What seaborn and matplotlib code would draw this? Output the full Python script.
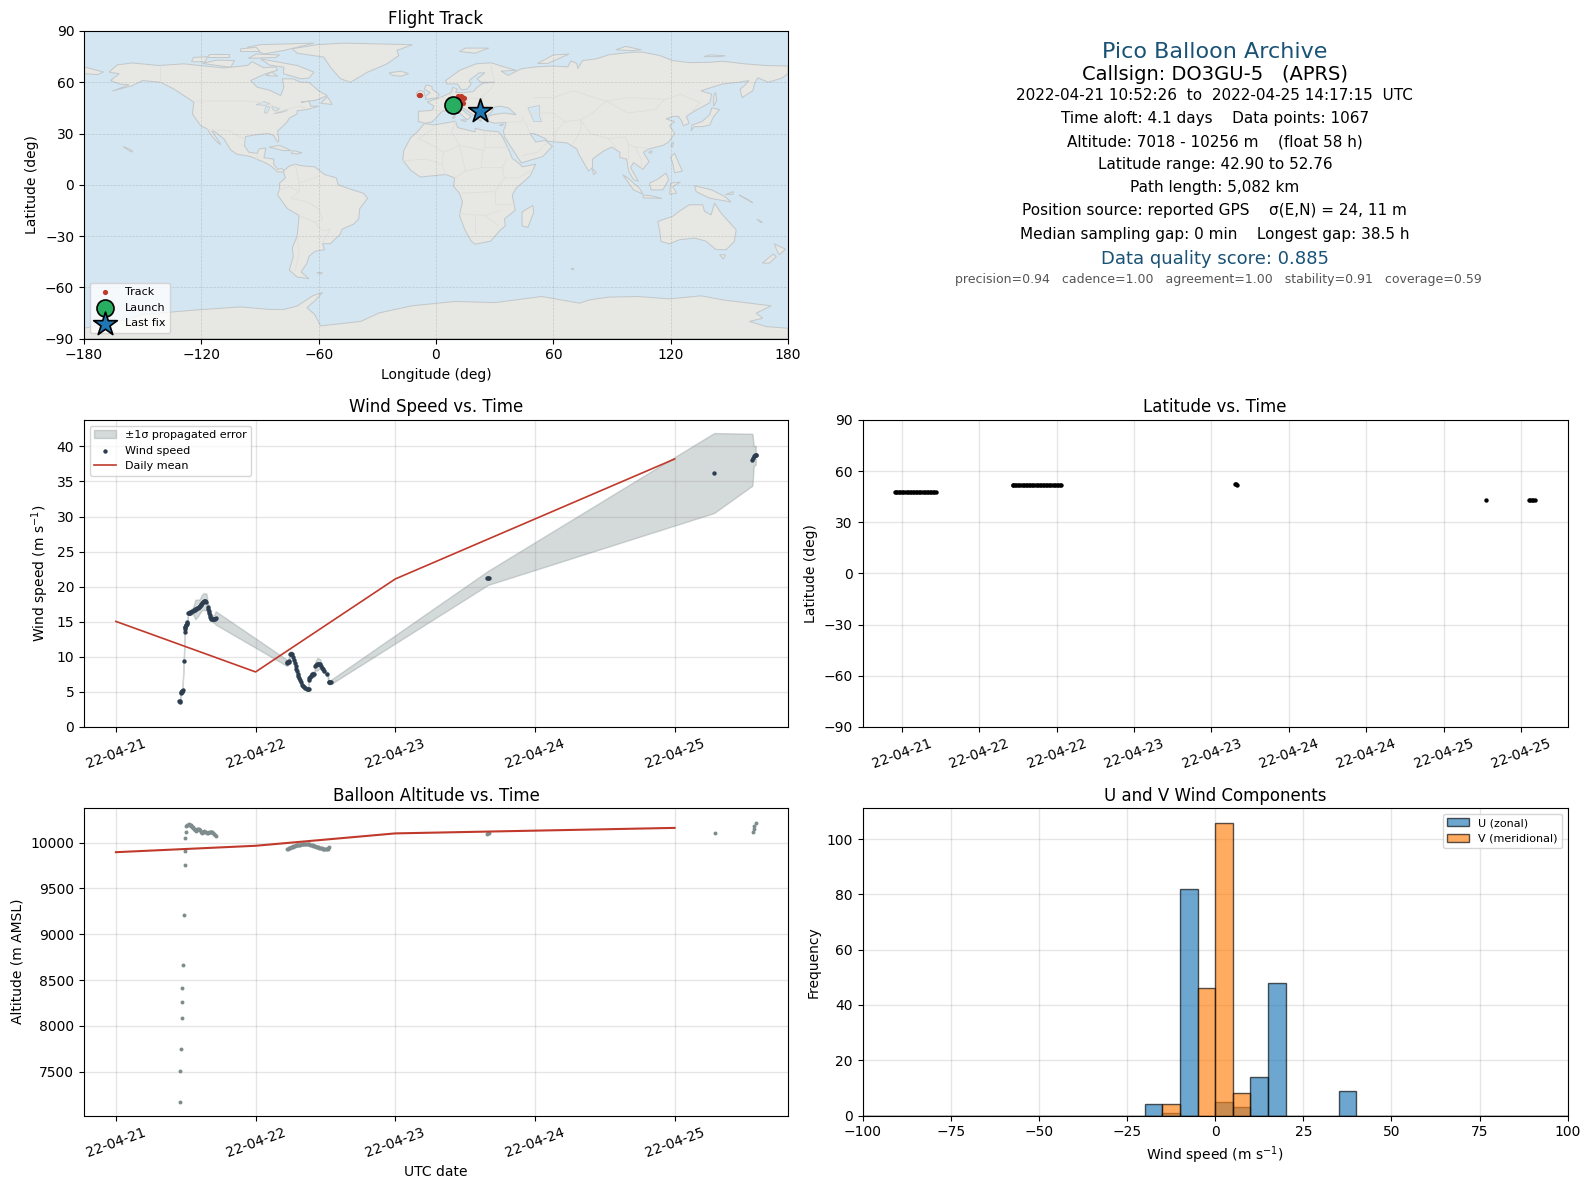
import numpy as np
import pandas as pd
import matplotlib
matplotlib.use("Agg")
import matplotlib.pyplot as plt
import matplotlib.dates as mdates
import seaborn as sns

# days since 2022-04-21 00:00 UTC
BASE = pd.Timestamp("2022-04-21")

# band is drawn from these
wind_days = [.457,.467,.476,.486,.493,.493,.5,.51,.517,.533,.552,.569,.586,.6,.614,.629,.648,.657,.669,.676,.688,.705,.714,
             1.224,1.236,1.248,1.262,1.274,1.286,1.298,1.307,1.319,1.331,1.348,1.367,1.379,1.381,1.39,1.407,1.421,1.426,1.443,1.462,1.474,1.493,1.514,1.524,1.538,
             2.664,4.283,4.557,4.567,4.581]
wind_speed = [3.67,4.95,5.2,9.4,13.55,14.27,14.5,14.8,16.25,16.35,16.55,16.75,16.95,17.2,17.7,17.9,17.8,17.1,16.25,15.7,15.4,15.4,15.55,
              9.15,9.3,10.45,10.4,9.6,8.65,7.95,7.25,6.65,6.05,5.7,5.45,5.4,6.75,7.15,7.5,7.55,8.65,8.95,9.05,8.4,7.95,7.5,6.4,6.4,
              21.25,36.2,38.1,38.6,38.75]
wind_err = [.2,.2,.2,.2,.3,.3,.3,.3,.3,.3,.5,1.4,1.2,1.0,1.1,1.2,1.2,.7,.5,.4,.4,.6,.95,
            .45,.4,.35,.35,.3,.3,.3,.3,.3,.3,.3,.3,.3,.4,.4,.4,.4,.6,.9,.6,.4,.3,.3,.3,.3,
            1.0,5.7,3.7,1.4,1.35]
# more samples along the same runs, dots only
wind_more_days = [.455,.459,.465,.47,.474,.478,.494,.497,.503,.507,.512,.52,.526,.53,.54,.545,.56,.563,.575,.58,.592,.596,.606,.61,.62,.625,.635,.64,.66,.665,.672,.68,.684,.693,.698,.71,
                  1.228,1.232,1.24,1.252,1.257,1.268,1.28,1.292,1.303,1.313,1.325,1.34,1.357,1.373,1.385,1.396,1.402,1.413,1.434,1.45,1.456,1.468,1.483,1.528,1.533,
                  2.658,2.67,4.56,4.575,4.585]
wind_more_speed = [3.7,3.6,4.9,5.0,5.2,5.25,13.9,14.2,14.6,14.7,14.95,16.25,16.3,16.3,16.4,16.5,16.65,16.7,16.85,16.9,17.05,17.1,17.4,17.55,17.8,17.85,17.95,17.9,16.8,16.5,16,15.55,15.45,15.35,15.35,15.45,
                   9.2,9.25,9.35,10.45,10.45,10,9.1,8.3,7.6,6.95,6.35,5.85,5.55,5.42,6.95,7.3,7.4,7.55,8.8,9.0,9.05,8.75,8.2,6.4,6.4,
                   21.2,21.25,38.3,38.7,38.8]

mean_days = [0, 1, 2, 4]
mean_wind = [15.05, 7.85, 21.1, 38.2]
mean_alt = [9895, 9965, 10100, 10160]

alt_days = [.457,.457,.464,.471,.471,.471,.479,.486,.493,.493,.493,.5,.505,.51,.514,.52,.529,.535,.54,.545,.55,.555,.56,.565,.571,.578,.58,.586,.593,.6,.607,.614,.62,.626,.633,.64,.646,.652,.658,.665,.671,.678,.684,.69,.698,.705,.711,.717,
            1.224,1.23,1.236,1.242,1.248,1.254,1.26,1.265,1.271,1.277,1.283,1.29,1.295,1.3,1.307,1.313,1.319,1.325,1.331,1.337,1.343,1.349,1.355,1.361,1.367,1.373,1.379,1.385,1.39,1.396,1.402,1.408,1.414,1.42,1.426,1.432,1.438,1.444,1.45,1.456,1.462,1.468,1.474,1.48,1.486,1.492,1.498,1.504,1.51,1.516,1.522,1.529,
            2.66,2.664,2.668,4.29,4.56,4.565,4.57,4.585]
altitude = [7171,7511,7752,8091,8266,8409,8660,9208,9755,9909,10051,10117,10179,10190,10197,10200,10197,10190,10180,10172,10165,10155,10150,10135,10124,10135,10145,10150,10145,10135,10120,10106,10112,10118,10124,10118,10112,10106,10108,10110,10113,10116,10118,10120,10105,10091,10085,10077,
            9931,9935,9938,9942,9945,9948,9953,9957,9960,9963,9966,9969,9971,9973,9975,9977,9978,9980,9982,9984,9985,9986,9987,9986,9985,9983,9981,9980,9978,9976,9973,9970,9967,9963,9960,9956,9953,9950,9947,9944,9942,9939,9936,9933,9931,9929,9928,9927,9927,9932,9940,9949,
            10097,10100,10103,10105,10120,10150,10180,10215]

lat_days = [.453,.46,.47,.48,.49,.5,.51,.52,.53,.54,.55,.56,.57,.58,.59,.6,.61,.62,.63,.64,.65,.66,.67,.68,.69,.7,.71,.72,
            1.215,1.22,1.23,1.24,1.25,1.26,1.27,1.28,1.29,1.3,1.31,1.32,1.33,1.34,1.35,1.36,1.37,1.38,1.39,1.4,1.41,1.42,1.43,1.44,1.45,1.46,1.47,1.48,1.49,1.5,1.51,1.52,1.528,
            2.655,2.66,2.665,4.274,4.55,4.56,4.57,4.58,4.59]
lat_vals = [47.6,47.6,47.6,47.7,47.7,47.7,47.7,47.7,47.7,47.7,47.8,47.8,47.8,47.8,47.8,47.8,47.8,47.8,47.8,47.8,47.9,47.9,47.9,47.9,47.9,47.9,47.9,48,
            51.6,51.6,51.6,51.6,51.7,51.7,51.7,51.7,51.7,51.7,51.7,51.7,51.8,51.8,51.8,51.8,51.8,51.8,51.8,51.8,51.8,51.8,51.8,51.8,51.9,51.9,51.9,51.9,51.9,51.9,51.9,51.9,51.9,
            52.76,52.4,52,43.2,43.2,43.1,43,42.9,43.1]

track_lon = [8.7,9.5,11,12.1,13.5,13,13.8,12.6,11.4,14.2,-8.5,-8.2,10.4,10.2,22.3]
track_lat = [47.5,47.6,48,51.6,51.2,52,47.7,50.8,51.9,50.6,52.6,52.76,42.9,43.4,43.4]
launch_lon, launch_lat = [8.7], [46.9]
last_lon, last_lat = [22.3], [43.4]

bin_edges = list(range(-100, 105, 5))
u_left = [-20, -15, -10, 0, 5, 10, 15, 35]
u_counts = [4, 1, 82, 5, 3, 14, 48, 9]
v_left = [-15, -5, 0, 5]
v_counts = [4, 46, 106, 8]

info_lines = ["Pico Balloon Archive", "Callsign: DO3GU-5   (APRS)",
              "2022-04-21 10:52:26  to  2022-04-25 14:17:15  UTC",
              "Time aloft: 4.1 days    Data points: 1067",
              "Altitude: 7018 - 10256 m    (float 58 h)",
              "Latitude range: 42.90 to 52.76",
              "Path length: 5,082 km",
              "Position source: reported GPS    σ(E,N) = 24, 11 m",
              "Median sampling gap: 0 min    Longest gap: 38.5 h",
              "Data quality score: 0.885",
              "precision=0.94   cadence=1.00   agreement=1.00   stability=0.91   coverage=0.59"]

# rough coastlines, lon/lat
north_america = [(-167.2,65.9),(-163,70.2),(-155.3,71.3),(-141.7,69.8),(-128.9,70.8),(-121,69.8),(-108.4,68.4),(-96.5,69.8),(-94,72),(-88,68.5),(-82,69),(-81,67),(-87,65),(-94.8,61),(-91.4,57.1),(-85,55.3),(-81.2,53.2),(-79.5,52.2),(-77.8,57.1),(-78.6,62),(-73,62),(-69.3,60),(-65,60),(-60,55),(-55.6,52.2),(-60,50),(-62.5,49.3),(-69,48.3),(-65,49),(-64,46),(-60,46),(-66,44),(-71,43.4),(-71,41.5),(-75,39),(-76,37),(-78,34.6),(-81,31.5),(-80.3,25.8),(-81,25),(-83,28.8),(-85.5,30),(-91.4,29.4),(-97.4,28.2),(-98,22.9),(-95.7,19),(-91.4,18.4),(-90.5,21),(-87,21.5),(-88,15.8),(-83,15),(-83,12),(-81,9),(-79,9.5),(-77.5,8.5),(-78,7.5),(-81,7.5),(-84.6,11.2),(-87.5,13),(-94.8,16.5),(-102,18),(-105,20.4),(-108.4,26.8),(-113,31),(-114.7,31.5),(-112,27),(-110,23.5),(-112,25),(-115.3,29.5),(-117,32.7),(-120.4,34.6),(-124.6,41.5),(-123.8,48.3),(-128.9,52.2),(-134,56),(-140.8,60),(-150,61),(-155.3,58),(-165.5,54.8),(-157,58.5),(-162,59),(-166.4,61),(-162,65)]
greenland = [(-73.5,79.6),(-60.7,82),(-47,82.9),(-12,82),(-20,78.6),(-19,75.6),(-25,70.8),(-35,65.9),(-43.7,60),(-48.8,62),(-54,68.8),(-57.4,74.7),(-71,77)]
baffin = [(-89.7,73.7),(-71,69.8),(-62.4,65.9),(-65,62.5),(-69,62),(-78,65),(-77.8,68.8),(-85,70)]
victoria = [(-119.5,71),(-105,68.8),(-103,72.7),(-112,73)]
ellesmere = [(-96.5,80.5),(-89.7,82),(-62.4,82.9),(-77.8,78.6),(-88,76.6)]
banks = [(-125,72),(-118,72),(-117,75),(-124,74.5)]
devon = [(-96,74),(-82,74.5),(-80,76),(-92,76.5)]
melville = [(-117,75),(-106,75),(-106,76.5),(-116,76.5)]
axel = [(-100,78),(-90,78),(-92,80.5),(-100,79.5)]
southampton = [(-87,64),(-81,63.5),(-84,66)]
newfoundland = [(-59,47.7),(-53,47),(-55.5,51.5)]
cuba = [(-85.4,22),(-80,23),(-74,20),(-78,20)]
hispaniola = [(-74,18.5),(-73,20),(-68.5,18.7),(-71,18)]
hawaii = [(-160,22.4),(-157,21),(-155,19.6),(-156,19.2)]
south_america = [(-77.5,8.5),(-75,11),(-72,12),(-68,11),(-62,10.5),(-57,6),(-51,4),(-50,0),(-44,-2.5),(-37,-5),(-35,-8),(-39,-14),(-39.5,-20),(-42,-23),(-48,-26),(-49,-29),(-54,-34.5),(-58,-34.5),(-57,-38),(-62,-39),(-65,-42),(-66,-46),(-69,-51),(-65,-55),(-71,-54),(-75,-50),(-73,-42),(-73.5,-37),(-71,-30),(-70,-18),(-76,-14),(-81,-6),(-80,-2.5),(-80,1),(-77,4),(-78,7.5)]
africa = [(-6,35.8),(-1,35),(10,37.2),(11,33.5),(15,32.3),(20,31),(20,33),(25,31.7),(32,31),(34,28),(37,21),(39,15.5),(43,12),(44,10.5),(51,12),(48,5),(41,-2),(39,-6),(40.5,-15),(35,-20),(35.5,-24),(32.5,-27),(28,-33),(20,-34.8),(18,-33),(15,-27),(12,-18),(13.5,-10),(12,-5),(9,-1),(9.5,4),(5,6),(-4,5),(-8,4.5),(-13,8.5),(-17,14.5),(-16.5,20),(-13,27.5),(-9.5,31)]
eurasia = [(-9,37),(-9,43),(-2,43.5),(-1,46),(-4.5,48.5),(2,51),(4,52),(8,54),(8.5,57),(11,56),(10,54),(14,54),(19,54.5),(21,57),(24,59.5),(30,60),(23,60),(21,62),(25,65.5),(22,65.5),(17,61),(18,59),(16,56),(13,55.5),(11,59),(5.5,59),(4.9,61),(12,66.9),(20.5,70.8),(28.2,71.4),(34.2,69.2),(41,67),(33.3,66.5),(37,64),(41.8,66.9),(44,68),(51.2,69),(59.7,69.5),(67.4,69),(69,72.5),(72,71),(72.5,68),(75,72.7),(81.9,73.7),(88.7,76.2),(100.6,77.6),(105.7,77.6),(114.2,75.7),(121,72.7),(129.6,71.5),(139.8,71.7),(146.6,72.3),(157.7,70.8),(168.8,69.8),(180,69.5),(180,65),(177,62.5),(170,60),(164.5,62.6),(163,59.5),(162,55),(156.5,51),(155.5,56),(157.7,58),(160,61),(155,60),(146.6,59),(135.5,55),(141,53),(140,48),(132,43),(128,40),(129.5,36),(126.5,34.5),(125.5,37.5),(124,40),(121,40),(117.7,38.5),(122,37),(119.5,34.6),(122,30),(119,25),(116,23),(109,21),(106,19),(109,13.5),(105.7,9),(101,13),(99.5,10),(103.5,2),(101,3),(98.5,8),(97.5,15),(94,16),(94,19),(90,22),(86,20),(80,15),(80,10),(78,8),(73,18),(72,21),(67,24.5),(57,25.5),(56,27),(50,30),(48,30),(51,25),(56,26),(59.5,22.5),(54.6,16.5),(43.6,12.8),(39,21),(35,28),(34.5,31.5),(36,36.5),(30,36),(27,37),(26.5,40),(29,41),(35,42),(41,41),(37,45),(33,46),(30,45.5),(28,42),(26,40.5),(23,40.5),(23,37),(20,40),(14,45),(12.3,45),(16,41.5),(18,40),(16,38),(12,42),(9,44.3),(3,43),(0,39),(-2,36.8),(-5.5,36)]
chukotka = [(-180,69),(-175,67.5),(-170,66),(-173,64.5),(-180,65)]
britain = [(-5.5,50),(1,51),(1.5,53),(-2,56),(-2,57.5),(-5,58.5),(-6,56),(-3,54),(-5,52)]
ireland = [(-10,52),(-6,52),(-6,54.5),(-8,55.2),(-10,54)]
iceland = [(-24,65.5),(-18,66.5),(-14,65),(-18,63.5),(-22,64)]
svalbard = [(12,78),(20,77),(27,80),(15,80)]
novaya = [(52,71),(57,71),(68,76.5),(60,76)]
severnaya = [(92,79),(100,78.5),(105,79),(97,81)]
novosibirsk = [(137,75),(145,75),(148,75.5),(140,76)]
wrangel = [(178,71),(-180,71.3),(-180,70.9),(178,70.8)]
japan = [(130.4,31.5),(132,34),(136,34),(140,35),(142,40),(145,44),(141,45),(140,41),(136,37),(131,35)]
sakhalin = [(142,46),(143.5,49),(143,54),(142,52)]
taiwan = [(120,23),(121.5,25),(121,22)]
sri_lanka = [(80,9.5),(82,7),(80.5,6)]
madagascar = [(44,-16),(49.5,-12),(50,-16),(47,-25),(44,-24)]
sumatra = [(95.5,5.9),(98,4),(104,-2),(105.8,-5.5),(101,-3)]
java = [(105.8,-6),(110,-6.5),(115.6,-8),(106,-7.7)]
borneo = [(109.2,1),(113,3),(117.7,6.8),(119,3),(116,-3),(110,-3)]
sulawesi = [(119.5,-5.5),(120,1),(125,1.5),(121,-1),(123,-5)]
philippines = [(120,16),(122,18.5),(124,13),(126,8),(122,7),(121,13)]
new_guinea = [(132.2,-0.5),(137.3,-2),(141,-3),(147.5,-6.8),(150.9,-10.1),(143,-8.5),(139.8,-7.8),(133,-4)]
new_britain = [(148,-5.8),(152,-4),(152,-5.5)]
solomon = [(155,-6),(160,-9),(162,-10.6),(158,-8)]
caledonia = [(164,-20),(167,-22),(166,-22)]
australia = [(113.4,-21.5),(121,-18.5),(125,-15),(129.6,-11.7),(136.4,-11.7),(137.3,-15.6),(140.7,-17.6),(142.4,-10.7),(145.8,-16.6),(153.5,-26.4),(152.6,-33.2),(148.4,-38),(143.2,-38),(138,-33),(132.2,-31.2),(124.5,-32.2),(119.4,-34.6),(115.1,-33.2),(114.3,-26.4)]
tasmania = [(145,-41),(148,-41),(147,-43.5)]
nz_north = [(173,-34.6),(178.7,-37.7),(175.6,-41),(174.5,-39)]
nz_south = [(172.5,-40.6),(174,-42),(170.5,-45.9),(166.8,-45.8)]
antarctica = [(-180,-84),(-158,-79),(-150,-76),(-125,-73.5),(-100,-71.5),(-85,-73),(-78,-73),(-71,-71),(-63,-65),(-58,-63),(-62,-68),(-66,-72),(-62,-76),(-59,-82.6),(-38.5,-80),(-29,-75),(-12,-70.8),(10,-68.3),(30,-69),(54,-65.4),(73.4,-69.3),(78.5,-67.4),(87.9,-65.8),(103.2,-65.4),(119.4,-66.8),(135.6,-65),(146.6,-67.4),(160.3,-69.3),(171.4,-70.9),(163.7,-75.2),(167.1,-78.1),(160.3,-80),(168.8,-83),(180,-84),(180,-90),(-180,-90)]
falklands = [(-61,-51.5),(-58,-51.5),(-59,-52.3)]
kerguelen = [(69,-49),(70.5,-49),(70,-50)]
sicily = [(12.5,38),(15.5,38),(15,36.8)]
sardinia = [(8.3,39),(9.7,41),(9.6,39)]
crete_cyprus = [(32.5,34.8),(34.5,35.5),(33.5,34.7)]
hainan = [(108.7,19),(110.5,20),(110,18.3)]
land_shapes = [north_america, greenland, baffin, victoria, ellesmere, banks, devon, melville, axel, southampton, newfoundland, cuba, hispaniola, hawaii,
               south_america, africa, eurasia, chukotka, britain, ireland, iceland, svalbard, novaya, severnaya, novosibirsk, japan, sakhalin, taiwan,
               sri_lanka, madagascar, sumatra, java, borneo, sulawesi, philippines, new_guinea, new_britain, solomon, caledonia, australia, tasmania,
               nz_north, nz_south, antarctica, falklands, kerguelen, sicily, sardinia, crete_cyprus, hainan]

caspian = [(47,45),(53,46.5),(53,40),(54,37),(50,37),(49,40)]
superior = [(-92,46.8),(-88,48.7),(-85,47.5),(-87,46.5)]
michigan = [(-87.8,42),(-87,45.8),(-85,45.5),(-86.3,42)]
huron = [(-84,46),(-80,44.5),(-82,43),(-83.5,44)]
erie_ontario = [(-83,41.7),(-79,42.9),(-76.5,44),(-76,43.5),(-79,42.3)]
water_shapes = [caspian, superior, michigan, huron, erie_ontario]

# a few faint borders
borders = [[(-141,69.7),(-141,60)], [(-123,49),(-95,49),(-88,48),(-83,46),(-82,42.5),(-76,44),(-70,46),(-67,45)],
           [(-117,32.5),(-106,31.7),(-97,26)], [(-92,14.5),(-91,18)],
           [(-70,-18),(-62,-22),(-58,-20),(-60,-14),(-66,-10),(-74,-8),(-70,-4),(-70,1),(-67,2),(-60,5)],
           [(-71,-30),(-70,-40),(-72,-50)], [(-62,-22),(-58,-27),(-54,-26),(-58,-34)], [(-80,-3),(-75,-1),(-70,-4)], [(-72,12),(-70,1)],
           [(-9,27),(-1,33),(-1,35)], [(10,37),(8,31),(12,23),(4,19),(-5,25),(-9,27)], [(12,23),(25,20),(25,31.7)], [(25,22),(37,22)],
           [(4,19),(3,12),(5,6)], [(14,13),(12,23)], [(14,13),(15,8),(9.5,4)], [(24,20),(23,10),(34,10),(36,15)], [(15,8),(23,10)],
           [(34,10),(35,4),(42,4),(48,8)], [(13.5,-5),(30,-4),(35,4)], [(30,-4),(30,-11),(40,-11)], [(12,-17),(25,-18),(33,-15)],
           [(20,-28),(20,-18)], [(25,-18),(32,-24)], [(-17,14),(-5,15),(3,12)],
           [(28,70),(30,60),(28,56),(24,52),(22,48),(28,45)], [(14,54),(15,51),(24,50)], [(8,54),(6,50),(2,51)], [(-2,43.5),(3,43)], [(7,44),(6,50)],
           [(48,42),(60,42),(66,37),(61,31),(61,25)], [(48,30),(46,36),(44,39)], [(36,36.5),(44,37)], [(35,30),(48,30)], [(44,17),(52,19),(56,24)],
           [(50,51),(60,51),(70,55),(87,49),(98,51),(117,50),(125,53),(135,48),(131,43)], [(87,49),(80,42),(74,38)], [(74,38),(79,30),(88,27),(97,28),(98,24),(102,22),(108,21.5)],
           [(66,37),(74,38),(74,32),(70,24)], [(88,27),(92,22)], [(98,24),(98,15)], [(102,22),(105,15),(105,9)], [(87,49),(98,42),(112,44),(117,50)]]

c_red = "#c0392b"
c_navy = "#2c3e50"
c_grey = "#7f8c8d"
c_title = "#1a5276"


def to_time(days):
    return BASE + pd.to_timedelta(np.asarray(days, dtype=float), unit="D")


def one_time(d):
    return BASE + pd.to_timedelta(d, unit="D")


def panel(px_l, px_t, px_r, px_b):
    return fig.add_axes([px_l / 1589, 1 - px_b / 1189, (px_r - px_l) / 1589, (px_b - px_t) / 1189])


def date_axis(ax, locator):
    ax.xaxis.set_major_locator(locator)
    ax.xaxis.set_major_formatter(mdates.DateFormatter("%y-%m-%d"))
    ax.tick_params(axis="x", rotation=20)
    ax.set_xlabel("")


def add_grid(ax):
    ax.grid(True, color="grey", alpha=0.2, linewidth=1)
    ax.set_axisbelow(True)


fig = plt.figure(figsize=(15.89, 11.89), dpi=100)

# Flight track
ax = panel(84, 31, 788, 338.5)
ax.set_facecolor("#d4e6f1")
for shape in land_shapes:
    xs, ys = zip(*shape)
    ax.fill(xs, ys, facecolor="#e7e7e3", edgecolor="#c2c7c9", linewidth=0.7, zorder=1)
for shape in water_shapes:
    xs, ys = zip(*shape)
    ax.fill(xs, ys, facecolor="#d4e6f1", edgecolor="#c2c7c9", linewidth=0.5, zorder=1.1)
for line in borders:
    xs, ys = zip(*line)
    ax.plot(xs, ys, color="#dedfdc", linewidth=0.6, zorder=1.2)
ax.grid(True, color="grey", alpha=0.3, linewidth=0.5, linestyle="--", zorder=1.3)
sns.scatterplot(x=track_lon, y=track_lat, color=c_red, s=14, linewidth=0, label="Track", ax=ax, zorder=3)
sns.scatterplot(x=launch_lon, y=launch_lat, color="#27ae60", s=150, edgecolor="black", linewidth=1.2, label="Launch", ax=ax, zorder=4)
sns.scatterplot(x=last_lon, y=last_lat, color="#1f77b4", marker="*", s=320, edgecolor="black", linewidth=1.2, label="Last fix", ax=ax, zorder=5)
ax.set_xlim(-180, 180)
ax.set_ylim(-90, 90)
ax.set_xticks(range(-180, 181, 60))
ax.set_yticks(range(-90, 91, 30))
ax.set_xlabel("Longitude (deg)")
ax.set_ylabel("Latitude (deg)")
ax.set_title("Flight Track", pad=5)
ax.legend(loc="lower left", fontsize=8)

# Summary text
info_y = [51.7, 74.5, 96, 118.5, 142, 165, 187.5, 210.5, 235, 259, 280]
info_x = [1215, 1214.5, 1214, 1215, 1215, 1215, 1215, 1214.5, 1215, 1215, 1218]
info_size = [16, 14, 11, 11, 11, 11, 11, 11, 11, 13, 9]
info_color = [c_title, "black", "black", "black", "black", "black", "black", "black", "black", c_title, "#555555"]
for line, x, y, size, col in zip(info_lines, info_x, info_y, info_size, info_color):
    fig.text(x / 1589, 1 - y / 1189, line, fontsize=size, color=col, ha="center", va="center")

# Wind speed
ax = panel(84, 420, 788, 727)
wt = to_time(wind_days)
speed = np.array(wind_speed)
err = np.array(wind_err)
ax.fill_between(wt, speed - err, speed + err, color=c_grey, alpha=0.33, label="±1σ propagated error")
sns.scatterplot(x=to_time(wind_days + wind_more_days), y=wind_speed + wind_more_speed, color=c_navy, s=10, linewidth=0, label="Wind speed", ax=ax)
sns.lineplot(x=to_time(mean_days), y=mean_wind, color=c_red, linewidth=1.2, errorbar=None, label="Daily mean", ax=ax)
ax.set_xlim(one_time(-0.2286), one_time(4.812))
ax.set_ylim(0, 43.76)
ax.set_yticks(range(0, 41, 5))
date_axis(ax, mdates.DayLocator())
ax.set_ylabel("Wind speed (m s$^{-1}$)")
ax.set_title("Wind Speed vs. Time")
add_grid(ax)
ax.legend(loc="upper left", fontsize=8)

# Latitude
ax = panel(862.5, 420, 1567.8, 727)
sns.scatterplot(x=to_time(lat_days), y=lat_vals, color="black", s=10, linewidth=0, ax=ax)
ax.set_xlim(one_time(0.2456), one_time(4.803))
ax.set_ylim(-90, 90)
ax.set_yticks(range(-90, 91, 30))
date_axis(ax, mdates.HourLocator(byhour=[0, 12]))
ax.set_ylabel("Latitude (deg)")
ax.set_title("Latitude vs. Time")
add_grid(ax)

# Altitude
ax = panel(84, 808, 788, 1115.5)
sns.scatterplot(x=to_time(alt_days), y=altitude, color=c_grey, s=8, linewidth=0, ax=ax)
sns.lineplot(x=to_time(mean_days), y=mean_alt, color=c_red, linewidth=1.5, errorbar=None, ax=ax)
ax.set_xlim(one_time(-0.2286), one_time(4.812))
ax.set_ylim(7023, 10377)
date_axis(ax, mdates.DayLocator())
ax.set_xlabel("UTC date")
ax.set_ylabel("Altitude (m AMSL)")
ax.set_title("Balloon Altitude vs. Time", pad=5)
add_grid(ax)

# U and V
ax = panel(862.5, 808, 1567.8, 1115.5)
edge = (0, 0, 0, 0.65)
sns.histplot(x=[v + 2.5 for v in u_left], weights=u_counts, bins=bin_edges, color="#1f77b4", alpha=0.65,
             edgecolor=edge, linewidth=1, label="U (zonal)", ax=ax)
sns.histplot(x=[v + 2.5 for v in v_left], weights=v_counts, bins=bin_edges, color="#ff7f0e", alpha=0.65,
             edgecolor=edge, linewidth=1, label="V (meridional)", ax=ax)
ax.set_xlim(-100, 100)
ax.set_ylim(0, 111.3)
ax.set_xlabel("Wind speed (m s$^{-1}$)")
ax.set_ylabel("Frequency")
ax.set_title("U and V Wind Components", pad=5)
add_grid(ax)
ax.legend(loc="upper right", fontsize=8)

fig.savefig("out.png", dpi=100)
